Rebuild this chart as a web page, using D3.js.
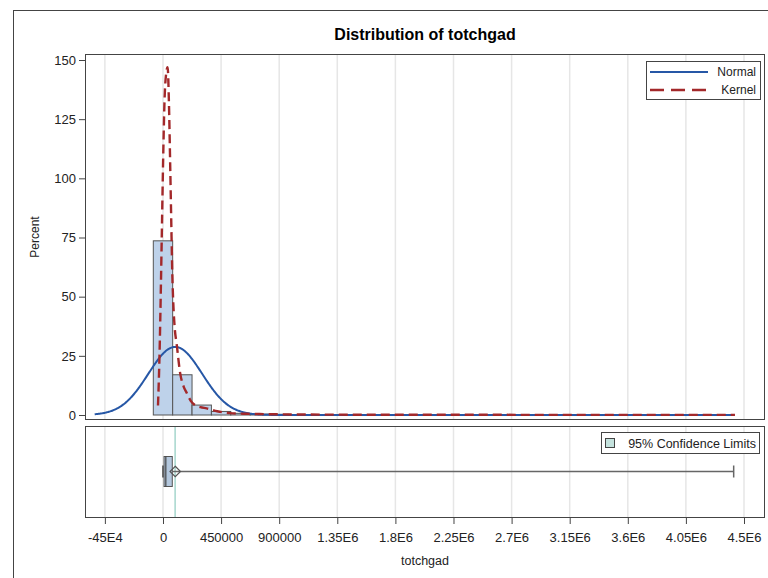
<!DOCTYPE html>
<html>
<head>
<meta charset="utf-8">
<script src="https://cdn.jsdelivr.net/npm/d3@7"></script>
<style>
  body { margin: 0; background: #fff; }
  svg { font-family: "Liberation Sans", Arial, sans-serif; }
</style>
</head>
<body>
<svg id="chart" width="768" height="578"></svg>
<script>
// values
const binWidth = 150000
const binMids = [0, 150000, 300000, 450000, 600000, 750000, 900000, 1050000, 1200000, 1350000]
const binPercents = [73.6, 17.0, 4.2, 1.5, 0.7, 0.4, 0.3, 0.2, 0.1, 0.1]

const kernelX = [-38700, -27000, -16000, -8000, 2000, 12000, 24000, 36000, 46000, 56000, 64000, 72000, 80000, 92000, 106000, 132000, 160000, 184000, 215000, 248000, 290000, 338000, 420000, 519000, 650000, 800000, 1100000, 1800000, 4430000]
const kernelY = [4, 25, 55, 80, 110, 133, 144, 147, 132, 105, 82, 60, 47, 36, 30, 18, 12, 9.3, 6, 4.2, 3.3, 2.8, 1.6, 0.8, 0.5, 0.35, 0.2, 0.1, 0.05]

const normalMean = 95000
const normalSd = 208000
const dataMax = 4420000

const boxStats = { min: 0, q1: 8000, median: 22000, q3: 72000, max: 4420000, mean: 95000 }
const meanCI = [88000, 100000]

const xTicks = [-450000, 0, 450000, 900000, 1350000, 1800000, 2250000, 2700000, 3150000, 3600000, 4050000, 4500000]
const xTickLabels = ["-45E4", "0", "450000", "900000", "1.35E6", "1.8E6", "2.25E6", "2.7E6", "3.15E6", "3.6E6", "4.05E6", "4.5E6"]
const yTicks = [0, 25, 50, 75, 100, 125, 150]

// layout
const left = 85, right = 765
const mainTop = 54, mainBottom = 420
const boxTop = 426, boxBottom = 518

const svg = d3.select("#chart")

const x = d3.scaleLinear().domain([-604000, 4662600]).range([left, right])
const y = d3.scaleLinear().domain([0, 150]).range([415, 60])

// outer frame
svg.append("rect")
  .attr("x", 13.5).attr("y", 10.5).attr("width", 800).attr("height", 600)
  .attr("fill", "none").attr("stroke", "#444").attr("stroke-width", 1)

svg.append("text")
  .attr("x", (left + right) / 2).attr("y", 40)
  .attr("text-anchor", "middle")
  .style("font-size", "16px").style("font-weight", "bold")
  .text("Distribution of totchgad")

// grid lines in both panels
function grid(top, bottom) {
  svg.append("g").selectAll("line")
    .data(xTicks)
    .join("line")
      .attr("x1", d => x(d)).attr("x2", d => x(d))
      .attr("y1", top).attr("y2", bottom)
      .attr("stroke", "#e6e6e6").attr("stroke-width", 1.5)
}
grid(mainTop, mainBottom)
grid(boxTop, boxBottom)

// main panel
svg.append("clipPath").attr("id", "mainclip")
  .append("rect").attr("x", left).attr("y", mainTop)
  .attr("width", right - left).attr("height", mainBottom - mainTop)

const main = svg.append("g").attr("clip-path", "url(#mainclip)")

main.append("g").selectAll("rect")
  .data(binMids)
  .join("rect")
    .attr("x", d => x(d - binWidth / 2))
    .attr("width", d => x(d + binWidth / 2) - x(d - binWidth / 2))
    .attr("y", (d, i) => y(binPercents[i]))
    .attr("height", (d, i) => y(0) - y(binPercents[i]))
    .attr("fill", "#bed2ea")
    .attr("stroke", "#555").attr("stroke-width", 1)

// normal curve, percent scale
const normalPts = d3.range(normalMean - 3 * normalSd, dataMax, 5000).map(v => {
  const z = (v - normalMean) / normalSd
  return [v, binWidth * 100 * Math.exp(-0.5 * z * z) / (normalSd * Math.sqrt(2 * Math.PI))]
})

main.append("path")
  .datum(normalPts)
  .attr("d", d3.line().x(d => x(d[0])).y(d => y(d[1])))
  .attr("fill", "none").attr("stroke", "#2657a6").attr("stroke-width", 2)

main.append("path")
  .datum(kernelX.map((v, i) => [v, kernelY[i]]))
  .attr("d", d3.line().x(d => x(d[0])).y(d => y(d[1])).curve(d3.curveMonotoneX))
  .attr("fill", "none").attr("stroke", "#a3282a").attr("stroke-width", 2.4)
  .attr("stroke-dasharray", "9,5")

svg.append("rect")
  .attr("x", left + 0.5).attr("y", mainTop + 0.5)
  .attr("width", right - left - 1).attr("height", mainBottom - mainTop - 1)
  .attr("fill", "none").attr("stroke", "#444")

// y axis
const yAxis = svg.append("g")
  .attr("transform", `translate(${left},0)`)
  .call(d3.axisLeft(y).tickValues(yTicks).tickSize(6).tickPadding(3))
yAxis.select(".domain").remove()
yAxis.selectAll("text").style("font-size", "13px").attr("fill", "#222")
yAxis.selectAll("line").attr("stroke", "#444")

svg.append("text")
  .attr("transform", `translate(39,${(mainTop + mainBottom) / 2}) rotate(-90)`)
  .attr("text-anchor", "middle")
  .style("font-size", "12px").attr("fill", "#222")
  .text("Percent")

// legend for the curves
const leg = svg.append("g").attr("transform", "translate(646,61)")
leg.append("rect").attr("x", 0.5).attr("y", 0.5).attr("width", 114).attr("height", 38)
  .attr("fill", "#fff").attr("stroke", "#444")
leg.append("line").attr("x1", 4).attr("x2", 62).attr("y1", 11).attr("y2", 11)
  .attr("stroke", "#2657a6").attr("stroke-width", 2)
leg.append("line").attr("x1", 4).attr("x2", 62).attr("y1", 29).attr("y2", 29)
  .attr("stroke", "#a3282a").attr("stroke-width", 2.4).attr("stroke-dasharray", "14,7")
leg.append("text").attr("x", 110).attr("y", 15).attr("text-anchor", "end")
  .style("font-size", "12px").attr("fill", "#222").text("Normal")
leg.append("text").attr("x", 110).attr("y", 33).attr("text-anchor", "end")
  .style("font-size", "12px").attr("fill", "#222").text("Kernel")

// box plot panel
const yc = 471.5
svg.append("rect")
  .attr("x", x(meanCI[0])).attr("y", boxTop)
  .attr("width", Math.max(1.2, x(meanCI[1]) - x(meanCI[0]))).attr("height", boxBottom - boxTop)
  .attr("fill", "#a9d8cf")

svg.append("line")
  .attr("x1", x(boxStats.q3)).attr("x2", x(boxStats.max))
  .attr("y1", yc).attr("y2", yc)
  .attr("stroke", "#666").attr("stroke-width", 1.5)
svg.append("line")
  .attr("x1", x(boxStats.max)).attr("x2", x(boxStats.max))
  .attr("y1", yc - 6).attr("y2", yc + 6)
  .attr("stroke", "#666").attr("stroke-width", 1.5)
svg.append("line")
  .attr("x1", x(boxStats.min)).attr("x2", x(boxStats.min))
  .attr("y1", yc - 6).attr("y2", yc + 6)
  .attr("stroke", "#444").attr("stroke-width", 1.5)
svg.append("rect")
  .attr("x", x(boxStats.q1)).attr("y", yc - 15)
  .attr("width", x(boxStats.q3) - x(boxStats.q1)).attr("height", 30)
  .attr("fill", "#b3c7dd").attr("stroke", "#555").attr("stroke-width", 1)
svg.append("line")
  .attr("x1", x(boxStats.median)).attr("x2", x(boxStats.median))
  .attr("y1", yc - 15).attr("y2", yc + 15)
  .attr("stroke", "#444").attr("stroke-width", 1.2)
svg.append("path")
  .attr("d", d3.symbol(d3.symbolDiamond2, 70)())
  .attr("transform", `translate(${x(boxStats.mean)},${yc})`)
  .attr("fill", "none").attr("stroke", "#555").attr("stroke-width", 1.2)

svg.append("rect")
  .attr("x", left + 0.5).attr("y", boxTop + 0.5)
  .attr("width", right - left - 1).attr("height", boxBottom - boxTop - 1)
  .attr("fill", "none").attr("stroke", "#444")

const leg2 = svg.append("g").attr("transform", "translate(601,432)")
leg2.append("rect").attr("x", 0.5).attr("y", 0.5).attr("width", 158).attr("height", 21)
  .attr("fill", "#fff").attr("stroke", "#444")
leg2.append("rect").attr("x", 4.5).attr("y", 6.5).attr("width", 9).attr("height", 9)
  .attr("fill", "#c4e2dd").attr("stroke", "#444")
leg2.append("text").attr("x", 155).attr("y", 15.5).attr("text-anchor", "end")
  .style("font-size", "12.5px").attr("fill", "#222").text("95% Confidence Limits")

// x axis
const xAxis = svg.append("g")
  .attr("transform", `translate(0,${boxBottom})`)
  .call(d3.axisBottom(x).tickValues(xTicks)
    .tickFormat((d, i) => xTickLabels[i]).tickSize(6).tickPadding(9))
xAxis.select(".domain").remove()
xAxis.selectAll("text").style("font-size", "13px").attr("fill", "#222")
xAxis.selectAll("line").attr("stroke", "#444")

svg.append("text")
  .attr("x", (left + right) / 2).attr("y", 565)
  .attr("text-anchor", "middle")
  .style("font-size", "12.5px").attr("fill", "#222")
  .text("totchgad")
</script>
</body>
</html>
